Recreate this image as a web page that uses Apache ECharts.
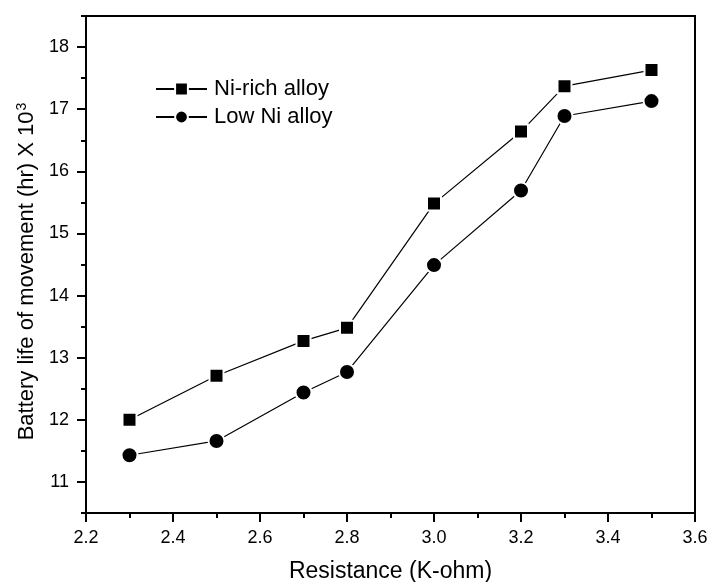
<!DOCTYPE html>
<html>
<head>
<meta charset="utf-8">
<script src="https://cdn.jsdelivr.net/npm/echarts@6/dist/echarts.min.js"></script>
<style>
  html, body { margin: 0; padding: 0; background: #fff; }
  #chart { width: 707px; height: 582px; }
</style>
</head>
<body>
<div id="chart"></div>
<script>
// data
const resistance = [2.3, 2.5, 2.7, 2.8, 3.0, 3.2, 3.3, 3.5]
const niRich = [12.0, 12.71, 13.27, 13.48, 15.48, 16.64, 17.37, 17.63]
const lowNi = [11.43, 11.66, 12.44, 12.77, 14.49, 15.69, 16.89, 17.13]

const xMajor = [2.2, 2.4, 2.6, 2.8, 3.0, 3.2, 3.4, 3.6]
const xMinor = [2.3, 2.5, 2.7, 2.9, 3.1, 3.3, 3.5]
const yMajor = [11, 12, 13, 14, 15, 16, 17, 18]
const yMinor = [10.5, 11.5, 12.5, 13.5, 14.5, 15.5, 16.5, 17.5, 18.5]

const FONT = 'Liberation Sans, Arial, sans-serif'
const chart = echarts.init(document.getElementById('chart'))

const toPairs = (xs, ys) => xs.map((x, i) => [x, ys[i]])

const baseX = { type: 'value', min: 2.2, max: 3.6, splitLine: { show: false } }
const baseY = { type: 'value', min: 10.5, max: 18.5, splitLine: { show: false } }

const option = {
  animation: false,
  backgroundColor: '#fff',
  grid: {
    left: 86, right: 12, top: 16, bottom: 69,
    outerBoundsMode: 'none',
    containLabel: false,
    show: true, borderColor: '#000', borderWidth: 2
  },
  legend: {
    orient: 'vertical',
    left: 155,
    top: 77,
    padding: 0,
    itemWidth: 51,
    itemHeight: 16,
    itemGap: 4,
    textStyle: { fontFamily: FONT, fontSize: 22, color: '#000', lineHeight: 24, padding: [0, 0, 0, 2] },
    data: ['Ni-rich alloy', 'Low Ni alloy']
  },
  xAxis: [
    Object.assign({}, baseX, {
      name: 'Resistance (K-ohm)',
      nameLocation: 'middle',
      nameGap: 47,
      nameTextStyle: { fontFamily: FONT, fontSize: 23, color: '#000' },
      axisLine: { onZero: false, lineStyle: { color: '#000', width: 2 } },
      axisTick: { customValues: xMajor, length: 9, lineStyle: { color: '#000', width: 2 } },
      axisLabel: {
        customValues: xMajor, margin: 16,
        fontFamily: FONT, fontSize: 18, color: '#000',
        formatter: v => v.toFixed(1)
      }
    }),
    Object.assign({}, baseX, {
      position: 'bottom',
      axisLine: { show: false, onZero: false },
      axisTick: { customValues: xMinor, length: 5, lineStyle: { color: '#000', width: 2 } },
      axisLabel: { show: false }
    })
  ],
  yAxis: [
    Object.assign({}, baseY, {
      name: '{a|Battery life of movement (hr) X 10}{s|3}',
      nameLocation: 'middle',
      nameGap: 46,
      nameTextStyle: {
        padding: [0, 14, 0, 0],
        rich: {
          a: { fontFamily: FONT, fontSize: 22, color: '#000' },
          s: { fontFamily: FONT, fontSize: 14, color: '#000', verticalAlign: 'top', padding: [0, 0, 10, 1] }
        }
      },
      axisLine: { onZero: false, lineStyle: { color: '#000', width: 2 } },
      axisTick: { customValues: yMajor, length: 9, lineStyle: { color: '#000', width: 2 } },
      axisLabel: {
        customValues: yMajor, margin: 17,
        fontFamily: FONT, fontSize: 18, color: '#000'
      }
    }),
    Object.assign({}, baseY, {
      position: 'left',
      axisLine: { show: false, onZero: false },
      axisTick: { customValues: yMinor, length: 5, lineStyle: { color: '#000', width: 2 } },
      axisLabel: { show: false }
    })
  ],
  series: [
    {
      name: 'Ni-rich alloy',
      type: 'line',
      symbol: 'rect',
      symbolSize: 14,
      lineStyle: { color: '#000', width: 1.2 },
      itemStyle: { color: '#000', borderColor: '#fff', borderWidth: 2 },
      data: toPairs(resistance, niRich)
    },
    {
      name: 'Low Ni alloy',
      type: 'line',
      symbol: 'circle',
      symbolSize: 16,
      lineStyle: { color: '#000', width: 1.2 },
      itemStyle: { color: '#000', borderColor: '#fff', borderWidth: 2 },
      data: toPairs(resistance, lowNi)
    }
  ]
}

chart.setOption(option)
</script>
</body>
</html>
